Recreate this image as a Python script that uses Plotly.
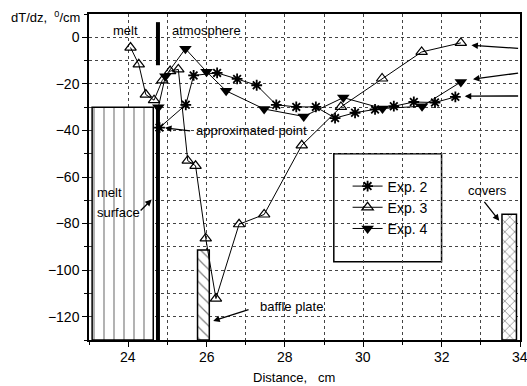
import plotly.graph_objects as go

# ---- data ----
exp2_x = [24.80, 25.47, 25.67, 26.27, 26.78, 27.28, 27.78, 28.29, 28.79, 29.28, 29.79, 30.30, 30.78, 31.29, 31.83, 32.35]
exp2_y = [-38.8, -29.0, -16.4, -15.3, -17.9, -20.6, -29.0, -29.9, -29.9, -34.7, -32.4, -31.0, -29.6, -27.8, -28.0, -25.6]

exp3_x = [24.06, 24.27, 24.45, 24.66, 24.87, 25.07, 25.28, 25.52, 25.72, 25.98, 26.24, 26.83, 27.47, 28.43, 29.43, 30.48, 31.49, 32.49]
exp3_y = [-4.4, -11.6, -24.6, -27.0, -18.5, -14.5, -13.8, -53.0, -55.2, -86.4, -112.2, -80.3, -76.1, -46.4, -29.9, -17.7, -6.3, -2.4]

exp4_x = [24.77, 24.95, 25.46, 26.00, 26.50, 27.47, 28.48, 29.49, 30.49, 31.50, 32.49]
exp4_y = [-30.0, -16.7, -4.9, -14.8, -23.0, -30.8, -34.0, -25.9, -30.6, -29.6, -19.2]

# blocks: melt, baffle plate, covers  (x left, x right, top)
block_names = ["melt", "baffle", "covers"]
block_x0 = [23.08, 25.77, 33.54]
block_x1 = [24.64, 26.07, 33.91]
block_top = [-30.0, -91.4, -76.0]
block_pattern = ["|", "\\", "x"]
y_bottom = -130

surface_x = 24.76
surface_low = [-130, -30]
surface_high = [6.5, -12]

x_ticks = [24, 26, 28, 30, 32, 34]
x_ticklabels = ["24", "26", "28", "30", "32", "34"]
y_ticks = [0, -20, -40, -60, -80, -100, -120]

FONT = "Liberation Sans, Arial, sans-serif"

fig = go.Figure()

pat_size = [10, 8, 7]
pat_solid = [0.12, 0.15, 0.2]
for i in range(len(block_names)):
    fig.add_trace(go.Bar(
        x=[(block_x0[i] + block_x1[i]) / 2], y=[block_top[i] - y_bottom], base=[y_bottom],
        width=[block_x1[i] - block_x0[i]], showlegend=False, hoverinfo="skip",
        marker=dict(color="white", line=dict(color="black", width=1.5),
                    pattern=dict(shape=block_pattern[i], fgcolor="black", bgcolor="white",
                                 size=pat_size[i], solidity=pat_solid[i])),
    ))

for seg in (surface_low, surface_high):
    fig.add_trace(go.Scatter(x=[surface_x, surface_x], y=seg, mode="lines",
                             line=dict(color="black", width=4), showlegend=False, hoverinfo="skip"))

fig.add_trace(go.Scatter(x=exp2_x, y=exp2_y, mode="lines+markers", name="Exp. 2",
                         line=dict(color="black", width=1),
                         marker=dict(symbol="asterisk-open", size=9, color="black",
                                     line=dict(color="black", width=1.8))))
fig.add_trace(go.Scatter(x=exp3_x, y=exp3_y, mode="lines+markers", name="Exp. 3",
                         line=dict(color="black", width=1),
                         marker=dict(symbol="triangle-up-open", size=10, color="black",
                                     line=dict(color="black", width=1.2))))
fig.add_trace(go.Scatter(x=exp4_x, y=exp4_y, mode="lines+markers", name="Exp. 4",
                         line=dict(color="black", width=1),
                         marker=dict(symbol="triangle-down", size=11, color="black")))

# legend box
fig.add_shape(type="rect", xref="paper", yref="paper", x0=0.568, x1=0.818, y0=0.240, y1=0.571,
              line=dict(color="black", width=1.5), fillcolor="white", layer="between")

ann = dict(showarrow=False, font=dict(family=FONT, size=13, color="black"))
texts = [
    dict(x=23.92, y=3, text="melt"),
    dict(x=26.0, y=3, text="atmosphere"),
    dict(x=25.68, y=-39.9, text="approximated point", xanchor="left"),
    dict(x=23.15, y=-66.6, text="melt", xanchor="left"),
    dict(x=23.15, y=-75.1, text="surface", xanchor="left"),
    dict(x=27.31, y=-115.7, text="baffle plate", xanchor="left"),
    dict(x=33.18, y=-66.0, text="covers"),
]
for t in texts:
    fig.add_annotation(xref="x", yref="y", **t, **ann)

arrows = [
    (24.94, -38.9, 25.62, -40.3),
    (24.60, -69.7, 24.28, -75.0),
    (26.17, -121.8, 27.11, -116.7),
    (33.47, -78.8, 33.06, -70.0),
    (32.76, -3.4, 33.99, -4.8),
    (32.80, -18.0, 33.99, -15.3),
    (32.59, -25.3, 33.99, -25.2),
]
for hx, hy, tx, ty in arrows:
    fig.add_annotation(x=hx, y=hy, ax=tx, ay=ty, xref="x", yref="y", axref="x", ayref="y",
                       text="", showarrow=True, arrowhead=2, arrowsize=1, arrowwidth=1.3,
                       arrowcolor="black")

# x tick labels (placed on the x scale; the last one is cut by the page edge as in the original)
for v, lab in zip(x_ticks, x_ticklabels):
    fig.add_annotation(xref="x", yref="paper", x=v, y=-0.052, xanchor="center", yanchor="middle",
                       text=lab, showarrow=False, font=dict(family=FONT, size=14, color="black"))

fig.add_annotation(xref="paper", yref="paper", x=-0.185, y=0.99, xanchor="left", yanchor="middle",
                   text="dT/dz,  <sup>0</sup>/cm", showarrow=False,
                   font=dict(family=FONT, size=13, color="black"))
fig.add_annotation(xref="paper", yref="paper", x=0.475, y=-0.116, xanchor="center", yanchor="middle",
                   text="Distance,   cm", showarrow=False,
                   font=dict(family=FONT, size=13, color="black"))

axis_common = dict(showline=True, linecolor="black", linewidth=1.5, mirror=True,
                   ticks="outside", ticklen=5, tickcolor="black", tickwidth=1,
                   showgrid=True, gridcolor="#444", griddash="dot", gridwidth=1,
                   zeroline=False, automargin=False,
                   tickfont=dict(family=FONT, size=14, color="black"))

fig.update_xaxes(range=[23, 34], tickvals=x_ticks, showticklabels=False, **axis_common,
                 minor=dict(dtick=1, tick0=23, showgrid=True, gridcolor="#444", griddash="dot",
                            ticks="outside", ticklen=3, tickcolor="black"))
fig.update_yaxes(range=[-130, 10], tickvals=y_ticks, **axis_common,
                 minor=dict(dtick=10, tick0=0, showgrid=True, gridcolor="#444", griddash="dot",
                            ticks="outside", ticklen=3, tickcolor="black"))

fig.update_layout(
    width=527, height=386, margin=dict(l=89, r=7, t=14, b=46, autoexpand=False),
    paper_bgcolor="white", plot_bgcolor="white", barmode="overlay",
    font=dict(family=FONT, size=14, color="black"),
    legend=dict(x=0.6, y=0.52, xanchor="left", yanchor="top", bgcolor="rgba(0,0,0,0)",
                borderwidth=0, font=dict(family=FONT, size=14), tracegroupgap=0),
)

fig.write_html("out.html")
